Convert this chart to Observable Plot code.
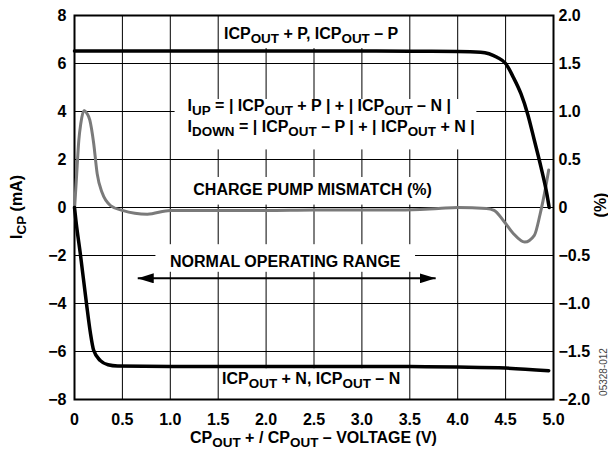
<!DOCTYPE html>
<html><head><meta charset="utf-8">
<script src="https://cdn.jsdelivr.net/npm/d3@7"></script>
<script src="https://cdn.jsdelivr.net/npm/@observablehq/plot@0.6"></script>
<style>body{margin:0;background:#fff} svg{display:block}</style>
</head><body><div id="chart"></div>
<script>
// ICP_OUT + P / ICP_OUT – P  (mA)
const topV = [0, 0.5, 1.0, 1.5, 2.0, 2.5, 3.0, 3.5, 4.0, 4.24, 4.41, 4.5, 4.58, 4.66, 4.73, 4.8, 4.87, 4.93, 4.955];
const topI = [6.52, 6.52, 6.52, 6.52, 6.52, 6.52, 6.52, 6.51, 6.5, 6.47, 6.26, 6.0, 5.43, 4.74, 3.9, 2.8, 1.67, 0.58, 0.0];
// ICP_OUT + N / ICP_OUT – N  (mA)
const botV = [0, 0.015, 0.06, 0.125, 0.165, 0.2, 0.27, 0.35, 0.45, 1.0, 2.0, 3.0, 3.5, 4.0, 4.5, 4.95];
const botI = [0, -0.55, -1.9, -4.0, -5.2, -5.95, -6.38, -6.55, -6.6, -6.62, -6.62, -6.62, -6.63, -6.65, -6.69, -6.8];
// charge pump mismatch (%)
const grayV = [0, 0.02, 0.045, 0.065, 0.1, 0.13, 0.16, 0.2, 0.237, 0.29, 0.376, 0.5, 0.76, 1.0, 1.5, 2.0, 2.5, 3.0, 3.4, 3.8, 4.0, 4.3, 4.38, 4.48, 4.58, 4.7, 4.8, 4.86, 4.92, 4.95];
const grayP = [-0.02, 0.3, 0.7, 0.87, 1.01, 0.98, 0.91, 0.67, 0.35, 0.15, 0.02, -0.03, -0.07, -0.03, -0.03, -0.03, -0.025, -0.025, -0.025, -0.01, 0.0, -0.01, -0.03, -0.14, -0.27, -0.36, -0.29, -0.07, 0.22, 0.39];

const xTicks = [0, 0.5, 1.0, 1.5, 2.0, 2.5, 3.0, 3.5, 4.0, 4.5, 5.0];
const xTickLabels = ["0", "0.5", "1.0", "1.5", "2.0", "2.5", "3.0", "3.5", "4.0", "4.5", "5.0"];
const yTicks = [-8, -6, -4, -2, 0, 2, 4, 6, 8];
const yTickLabels = ["−8", "−6", "−4", "−2", "0", "2", "4", "6", "8"];
const rightTickLabels = ["−2.0", "−1.5", "−1.0", "−0.5", "0", "0.5", "1.0", "1.5", "2.0"];
const mAPerPercent = 4; // right axis: 2.0% ↔ 8 mA

const topData = topV.map((v, i) => ({v, mA: topI[i]}));
const botData = botV.map((v, i) => ({v, mA: botI[i]}));
const grayData = grayV.map((v, i) => ({v, mA: grayP[i] * mAPerPercent}));

const boxes = [
  {x1: 1.55, x2: 3.45, y1: 6.62, y2: 8},
  {x1: 1.05, x2: 4.2, y1: 2.4, y2: 4.5},
  {x1: 1.25, x2: 3.75, y1: 0.1, y2: 1.25},
  {x1: 0.85, x2: 3.56, y1: -2.7, y2: -1.55},
  {x1: 1.55, x2: 3.45, y1: -8, y2: -6.72}
];

const chart = Plot.plot({
  width: 608, height: 449,
  marginLeft: 74, marginRight: 55, marginTop: 15, marginBottom: 50,
  style: {fontFamily: "'Liberation Sans', Arial, sans-serif", fontSize: "16px", fontWeight: "bold", background: "white", color: "black"},
  x: {domain: [0, 5]},
  y: {domain: [-8, 8]},
  marks: [
    Plot.gridX({ticks: xTicks, stroke: "black", strokeOpacity: 1, strokeWidth: 1}),
    Plot.gridY({ticks: yTicks, stroke: "black", strokeOpacity: 1, strokeWidth: 1}),
    Plot.rect(boxes, {x1: "x1", x2: "x2", y1: "y1", y2: "y2", fill: "white"}),
    Plot.frame({stroke: "black", strokeWidth: 2}),
    Plot.axisX({ticks: xTicks, tickFormat: d => xTickLabels[xTicks.indexOf(d)], tickSize: 0, tickPadding: 14, label: null}),
    Plot.axisY({anchor: "left", ticks: yTicks, tickFormat: d => yTickLabels[yTicks.indexOf(d)], tickSize: 0, tickPadding: 8, label: null}),
    Plot.axisY({anchor: "right", ticks: yTicks, tickFormat: d => rightTickLabels[yTicks.indexOf(d)], tickSize: 0, tickPadding: 5, label: null}),
    Plot.text(["ICP_{OUT} + P, ICP_{OUT} – P"], {x: 2.47, y: 7.25, text: d => d}),
    Plot.text(["I_{UP} = | ICP_{OUT} + P | + | ICP_{OUT} – N |"], {x: 1.18, y: 4.22, text: d => d, textAnchor: "start"}),
    Plot.text(["I_{DOWN} = | ICP_{OUT} – P | + | ICP_{OUT} + N |"], {x: 1.18, y: 3.36, text: d => d, textAnchor: "start"}),
    Plot.text(["CHARGE PUMP MISMATCH (%)"], {x: 2.485, y: 0.75, text: d => d}),
    Plot.text(["NORMAL OPERATING RANGE"], {x: 2.2, y: -2.25, text: d => d}),
    Plot.text(["ICP_{OUT} + N, ICP_{OUT} – N"], {x: 2.47, y: -7.12, text: d => d}),
    Plot.link([{a: 0.66, b: 3.77, y: -2.95}], {x1: "a", x2: "b", y1: "y", y2: "y", stroke: "black", strokeWidth: 2}),
    Plot.line(grayData, {x: "v", y: "mA", stroke: "#7a7a7a", strokeWidth: 3, curve: "monotone-x"}),
    Plot.line(topData, {x: "v", y: "mA", stroke: "black", strokeWidth: 3.5, curve: "monotone-x"}),
    Plot.line(botData, {x: "v", y: "mA", stroke: "black", strokeWidth: 3.5, curve: "monotone-x"})
  ]
});

document.getElementById("chart").appendChild(chart);
const svg = d3.select(chart);
const yScale = chart.scale("y");
const y0 = yScale.apply(0);

// arrowheads for the operating-range arrow
const defs = svg.append("defs");
defs.append("marker").attr("id", "tri").attr("viewBox", "0 0 16 10")
  .attr("refX", 16).attr("refY", 5).attr("markerWidth", 16).attr("markerHeight", 10)
  .attr("markerUnits", "userSpaceOnUse").attr("orient", "auto-start-reverse")
  .append("path").attr("d", "M0,0L16,5L0,10Z").attr("fill", "black");
svg.select('g[aria-label="link"] path').attr("marker-start", "url(#tri)").attr("marker-end", "url(#tri)");

// axis titles
const font = "'Liberation Sans', Arial, sans-serif";
svg.append("text").attr("transform", `translate(22,${y0}) rotate(-90)`).attr("text-anchor", "middle")
  .attr("font-family", font).attr("font-size", 16).attr("font-weight", "bold").text("I_{CP} (mA)");
svg.append("text").attr("transform", `translate(606,${y0 - 2}) rotate(-90)`).attr("text-anchor", "middle")
  .attr("font-family", font).attr("font-size", 16).attr("font-weight", "bold").text("(%)");
svg.append("text").attr("transform", `translate(607,372) rotate(-90)`).attr("text-anchor", "middle")
  .attr("font-family", font).attr("font-size", 10).attr("font-weight", "normal").attr("fill", "#444").text("05328-012");
svg.append("text").attr("x", 313.5).attr("y", 443).attr("text-anchor", "middle")
  .attr("font-family", font).attr("font-size", 16).attr("font-weight", "bold").text("CP_{OUT} + / CP_{OUT} – VOLTAGE (V)");

// subscripts
const NS = "http://www.w3.org/2000/svg";
const SUB = 4;
chart.querySelectorAll("text").forEach(el => {
  if (el.childElementCount) return;
  const s = el.textContent;
  if (!s.includes("_{")) return;
  el.textContent = "";
  const re = /_\{([^}]*)\}/g;
  let last = 0, m, pending = 0;
  const add = (str, sub) => {
    const t = document.createElementNS(NS, "tspan");
    t.textContent = str;
    if (sub) { t.setAttribute("dy", SUB); t.setAttribute("font-size", "0.84em"); pending = SUB; }
    else if (pending) { t.setAttribute("dy", -pending); pending = 0; }
    el.appendChild(t);
  };
  while ((m = re.exec(s))) {
    if (m.index > last) add(s.slice(last, m.index), false);
    add(m[1], true);
    last = re.lastIndex;
  }
  if (last < s.length) add(s.slice(last), false);
});
</script></body></html>
